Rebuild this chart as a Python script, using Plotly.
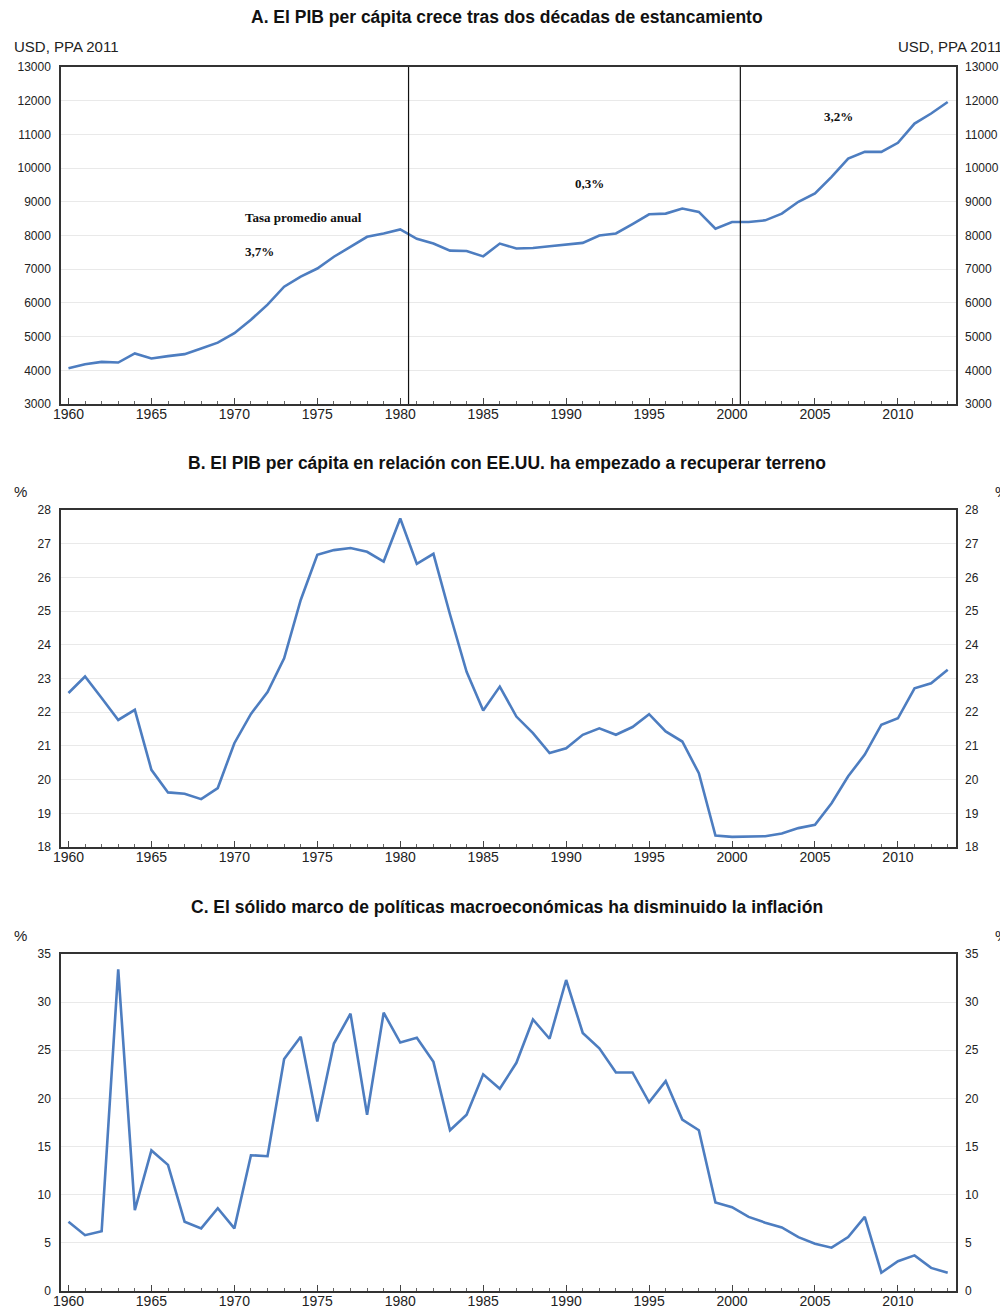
import plotly.graph_objects as go

years = list(range(1960, 2014))

gdp_pc = [4060, 4180, 4250, 4230, 4500, 4350, 4420, 4480, 4650, 4820,
          5100, 5500, 5950, 6480, 6780, 7020, 7370, 7660, 7960, 8060,
          8180, 7900, 7760, 7550, 7540, 7380, 7760, 7615, 7630, 7680,
          7740, 7780, 8000, 8060, 8340, 8630, 8650, 8800, 8700, 8200,
          8400, 8400, 8450, 8650, 9000, 9250, 9740, 10280, 10480, 10480,
          10750, 11320, 11620, 11960]

gdp_rel_us = [22.57, 23.06, 22.42, 21.77, 22.07, 20.29, 19.62, 19.58, 19.42, 19.75,
              21.08, 21.95, 22.60, 23.60, 25.33, 26.67, 26.81, 26.87, 26.76, 26.47,
              27.75, 26.40, 26.70, 24.90, 23.20, 22.05, 22.76, 21.87, 21.38, 20.79,
              20.93, 21.33, 21.52, 21.33, 21.56, 21.94, 21.43, 21.13, 20.19, 18.34,
              18.30, 18.31, 18.32, 18.40, 18.56, 18.66, 19.30, 20.10, 20.74, 21.63,
              21.82, 22.71, 22.86, 23.26]

inflation = [7.2, 5.8, 6.2, 33.4, 8.4, 14.6, 13.1, 7.2, 6.5, 8.6,
             6.5, 14.1, 14.0, 24.1, 26.4, 17.6, 25.7, 28.8, 18.3, 28.9,
             25.8, 26.3, 23.8, 16.7, 18.3, 22.5, 21.0, 23.7, 28.2, 26.2,
             32.3, 26.8, 25.2, 22.7, 22.7, 19.6, 21.8, 17.8, 16.7, 9.2,
             8.7, 7.7, 7.1, 6.6, 5.6, 4.9, 4.5, 5.6, 7.7, 1.9,
             3.1, 3.7, 2.4, 1.9]

period_breaks = [1980.5, 2000.5]
rate_labels = ["3,7%", "0,3%", "3,2%"]
rate_header = "Tasa promedio anual"

titles = ["A. El PIB per cápita crece tras dos décadas de estancamiento",
          "B. El PIB per cápita en relación con EE.UU. ha empezado a recuperar terreno",
          "C. El sólido marco de políticas macroeconómicas ha disminuido la inflación"]
units = ["USD, PPA 2011", "%", "%"]

W, H = 1008, 1308
OFF = 8  # page body margin
LINE = "#4d7dc0"
FONT = "Liberation Sans, Arial, sans-serif"
SERIF = "Liberation Serif, Times New Roman, serif"

def px_x(px):
    return (px - OFF) / W

def px_y(px):
    return 1 - (px - OFF) / H

x_dom = [px_x(61), px_x(956)]
panels = [
    dict(data=gdp_pc, top=67, bot=404, rng=[3000, 13000], dtick=1000),
    dict(data=gdp_rel_us, top=510, bot=847, rng=[18, 28], dtick=1),
    dict(data=inflation, top=954, bot=1291, rng=[0, 35], dtick=5),
]
title_y = [17, 463, 907]
unit_y = [47, 492, 935]

fig = go.Figure()
layout = dict(template="none", width=W, height=H, margin=dict(l=0, r=0, t=0, b=0, pad=0),
              autosize=False,
              paper_bgcolor="white", plot_bgcolor="white",
              showlegend=False, font=dict(family=FONT, color="#222"))
annotations = []
shapes = []

for i, p in enumerate(panels):
    n = i + 1
    xa = "x" if n == 1 else f"x{n}"
    ya = "y" if n == 1 else f"y{n}"
    yr = f"y{n + 3}"
    dom_y = [px_y(p["bot"]), px_y(p["top"])]
    fig.add_trace(go.Scatter(x=years, y=p["data"], mode="lines",
                             line=dict(color=LINE, width=2.6),
                             xaxis=xa, yaxis=ya, hoverinfo="x+y"))
    fig.add_trace(go.Scatter(x=years, y=p["data"], mode="lines",
                             line=dict(color="rgba(0,0,0,0)", width=0),
                             xaxis=xa, yaxis=yr, hoverinfo="skip"))
    xkey = "xaxis" if n == 1 else f"xaxis{n}"
    ykey = "yaxis" if n == 1 else f"yaxis{n}"
    layout[xkey] = dict(domain=x_dom, anchor=ya, range=[1959.55, 2013.5], automargin=False,
                        tick0=1960, dtick=5, ticks="inside", ticklen=6,
                        tickcolor="#444", tickwidth=1, tickformat="d",
                        minor=dict(dtick=1, tick0=1960, ticks="inside", ticklen=3,
                                   tickcolor="#666", showgrid=False),
                        showline=True, linecolor="#333", linewidth=1.5, mirror=True,
                        showgrid=False, zeroline=False,
                        tickfont=dict(size=14, color="#222"), ticklabelstandoff=-4)
    layout[ykey] = dict(domain=dom_y, anchor=xa, range=p["rng"], dtick=p["dtick"],
                        automargin=False, tickformat="d",
                        showline=True, linecolor="#333", linewidth=1.5, mirror=True,
                        showgrid=True, gridcolor="#e9e9e9", gridwidth=1,
                        zeroline=False, ticks="", ticklabelstandoff=6,
                        tickfont=dict(size=12, color="#222"))
    layout[f"yaxis{n + 3}"] = dict(domain=dom_y, anchor=xa, overlaying=ya, side="right",
                                   range=p["rng"], dtick=p["dtick"], showgrid=False,
                                   automargin=False, tickformat="d",
                                   zeroline=False, showline=False, ticks="",
                                   ticklabelstandoff=8,
                                   tickfont=dict(size=12, color="#222"))
    annotations.append(dict(text=f"<b>{titles[i]}</b>", xref="paper", yref="paper",
                            x=px_x(507), y=px_y(title_y[i]), xanchor="center", yanchor="middle",
                            showarrow=False, font=dict(size=17.5, color="#111", family=FONT)))
    annotations.append(dict(text=units[i], xref="paper", yref="paper",
                            x=px_x(12), y=px_y(unit_y[i]), xanchor="left", yanchor="middle",
                            showarrow=False, font=dict(size=15, color="#222")))
    annotations.append(dict(text=units[i], xref="paper", yref="paper",
                            x=px_x(1005) if units[i] != "%" else px_x(993), y=px_y(unit_y[i]),
                            xanchor="right" if units[i] != "%" else "left", yanchor="middle",
                            showarrow=False, font=dict(size=15, color="#222")))

for b in period_breaks:
    shapes.append(dict(type="line", xref="x", yref="y domain", x0=b, x1=b, y0=0, y1=1,
                       line=dict(color="#111", width=1.2)))

serif_font = dict(family=SERIF, size=13, color="#111")
annotations += [
    dict(text=f"<b>{rate_header}</b>", xref="x", yref="y", x=1970.55, y=8520,
         xanchor="left", yanchor="middle", showarrow=False, font=serif_font),
    dict(text=f"<b>{rate_labels[0]}</b>", xref="x", yref="y", x=1970.5, y=7520,
         xanchor="left", yanchor="middle", showarrow=False, font=serif_font),
    dict(text=f"<b>{rate_labels[1]}</b>", xref="x", yref="y", x=1991.4, y=9530,
         xanchor="center", yanchor="middle", showarrow=False, font=serif_font),
    dict(text=f"<b>{rate_labels[2]}</b>", xref="x", yref="y", x=2006.4, y=11520,
         xanchor="center", yanchor="middle", showarrow=False, font=serif_font),
]

layout["annotations"] = annotations
layout["shapes"] = shapes
fig.update_layout(**layout)
fig.write_html("out.html")
